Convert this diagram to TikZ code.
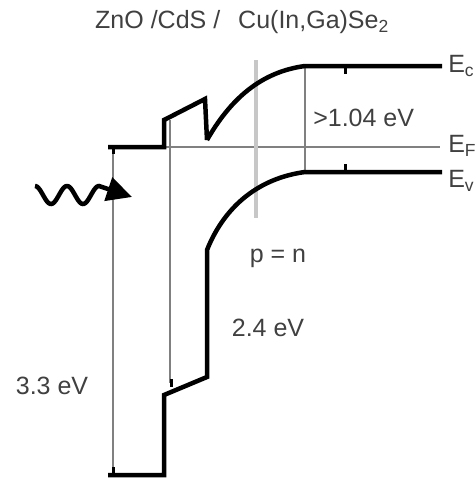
\documentclass[tikz,border=0pt]{standalone}
\usepackage{fontspec}
\setsansfont{Liberation Sans}
\usetikzlibrary{arrows.meta}

\begin{document}
\begin{tikzpicture}[x=1pt,y=-1pt,line width=4.5pt,
    font=\sffamily\fontsize{25}{29}\selectfont,
    thin line/.style={line width=1.5pt,black!50},
    lbl/.style={text=black!75,inner sep=0pt}]
  \useasboundingbox (0,0) rectangle (475,479);
  % thin guide lines
  \draw[thin line] (108,147) -- (440,147);          % Fermi level
  \draw[thin line] (113,147) -- (113,473);
  \draw[thin line] (170,120) -- (170,383);
  \draw[thin line] (305,66) -- (305,172);
  \draw[line width=4pt,black!22] (256,60) -- (256,218);  % p = n
  % conduction band
  \draw[line join=miter] (108,147) -- (164,147) -- (164,120) -- (205,99) -- (207,140);
  \draw (207,140) .. controls (230,100) and (260,72) .. (305,66) -- (442,66);
  % valence band
  \draw (108,475) -- (164,475) -- (164,395) -- (207,377) -- (207,250)
        .. controls (225,205) and (260,178) .. (305,172) -- (442,172);
  % little marks
  \foreach \xa/\ya/\yb in {345/66/74, 345/172/164, 113/147/154, 113/475/467, 171/379/387}
    \draw[line width=3pt] (\xa,\ya) -- (\xa,\yb);
  % incoming light
  \draw[line width=4.5pt,-{Triangle[length=25pt,width=24pt]}]
    plot[domain=35:99,samples=60,smooth] (\x,{195+9*sin((\x-43)*11.25)}) -- (132,197);
  % texts
  \node[lbl] (title) at (242,22) {ZnO /CdS /\hspace{18pt}Cu(In,Ga)Se\textsubscript{2}};
  \node[lbl,anchor=west] (gap) at (311,118) {>1.04 eV};
  \node[lbl] (pn) at (278,258) {p = n};
  \node[lbl] (cds) at (268,328) {2.4 eV};
  \node[lbl] (zno) at (52,386) {3.3 eV};
  \foreach \nm/\y/\s in {Ec/66/c, EF/146/F, Ev/181/v}
    \node[lbl,anchor=west] (\nm) at (446,\y) {E\textsubscript{\s}};
\end{tikzpicture}
\end{document}
